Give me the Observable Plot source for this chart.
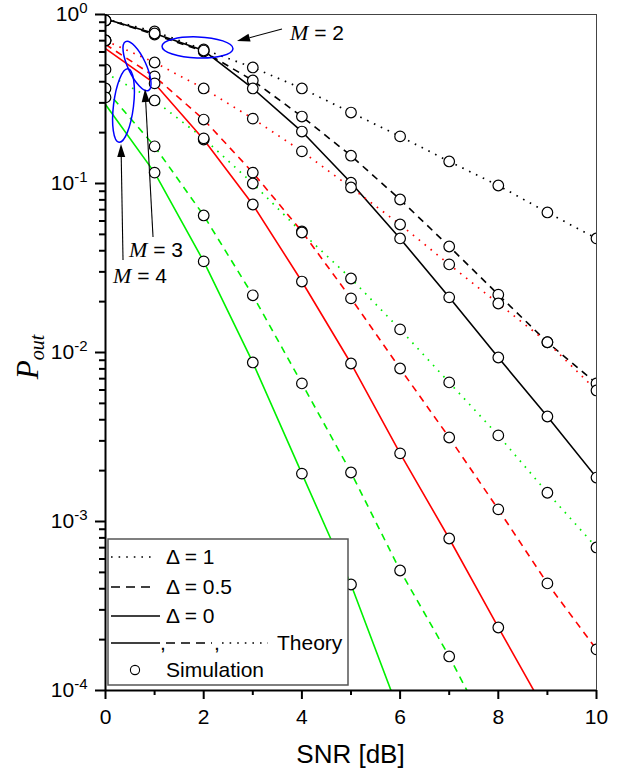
<!DOCTYPE html>
<html>
<head>
<meta charset="utf-8">
<script src="https://cdn.jsdelivr.net/npm/d3@7"></script>
<script src="https://cdn.jsdelivr.net/npm/@observablehq/plot@0.6"></script>
<style>
  html, body { margin: 0; padding: 0; background: #fff; }
  #chart svg { display: block; }
</style>
</head>
<body>
<div id="chart"></div>
<script>
// ---------------- data ----------------
const snr = [0, 1, 2, 3, 4, 5, 6, 7, 8, 9, 10];           // SNR [dB]
const mValues = [2, 3, 4];
const deltaValues = [1, 0.5, 0];
const deltaLabels = ["Δ = 1", "Δ = 0.5", "Δ = 0"];
const yMajorTicks = [1, 1e-1, 1e-2, 1e-3, 1e-4];
const yTickLabels = ["10^0", "10^-1", "10^-2", "10^-3", "10^-4"];
const xMajorTicks = [0, 2, 4, 6, 8, 10];
const xMinorTicks = [1, 3, 5, 7, 9];

// Simulation (circles), index = SNR
const simM2D1  = [0.922, 0.793, 0.621, 0.486, 0.365, 0.263, 0.190, 0.135, 0.0973, 0.0674, 0.0473];
const simM2D05 = [0.922, 0.761, 0.604, 0.407, 0.249, 0.146, 0.0804, 0.0424, 0.0220, 0.0115, 0.00656];
const simM2D0  = [0.922, 0.772, 0.612, 0.365, 0.203, 0.101, 0.0473, 0.0212, 0.00934, 0.00418, 0.00182];
const simM3D1  = [0.702, 0.520, 0.365, 0.242, 0.155, 0.0947, 0.0572, 0.0332, 0.0195, 0.0115, 0.00596];
const simM3D05 = [0.702, 0.430, 0.239, 0.116, 0.0520, 0.0209, 0.00804, 0.00314, 0.00118, 0.000430, 0.000175];
const simM3D0  = [0.702, 0.391, 0.182, 0.0751, 0.0263, 0.00861, 0.00253, 0.000793, 0.000236];
const simM4D1  = [0.473, 0.310, 0.185, 0.100, 0.0513, 0.0274, 0.0137, 0.00665, 0.00323, 0.00148, 0.000702];
const simM4D05 = [0.365, 0.166, 0.0647, 0.0218, 0.00656, 0.00195, 0.000513, 0.000159];
const simM4D0  = [0.323, 0.116, 0.0346, 0.00873, 0.00192, 0.000424];

// Theory (lines), index = SNR
const thM2D1  = [0.94, 0.793, 0.621, 0.486, 0.365, 0.263, 0.190, 0.135, 0.0973, 0.0674, 0.0473];
const thM2D05 = [0.94, 0.761, 0.604, 0.407, 0.249, 0.146, 0.0804, 0.0424, 0.0220, 0.0115, 0.00656];
const thM2D0  = [0.94, 0.772, 0.612, 0.365, 0.203, 0.101, 0.0473, 0.0212, 0.00934, 0.00418, 0.00182];
const thM3D1  = [0.70, 0.520, 0.365, 0.242, 0.155, 0.0947, 0.0572, 0.0332, 0.0195, 0.0115, 0.00596];
const thM3D05 = [0.665, 0.430, 0.239, 0.116, 0.0520, 0.0209, 0.00804, 0.00314, 0.00118, 0.000430, 0.000175];
const thM3D0  = [0.629, 0.391, 0.182, 0.0751, 0.0263, 0.00861, 0.00253, 0.000793, 0.000236, 0.000072];
const thM4D1  = [0.45, 0.310, 0.185, 0.100, 0.0513, 0.0274, 0.0137, 0.00665, 0.00323, 0.00148, 0.000702];
const thM4D05 = [0.36, 0.166, 0.0647, 0.0218, 0.00656, 0.00195, 0.000513, 0.000159, 0.000044];
const thM4D0  = [0.2935, 0.116, 0.0346, 0.00873, 0.00192, 0.000424, 0.000072];

// ---------------- styles ----------------
const colorOfM = {2: "#000000", 3: "#ff0000", 4: "#00f000"};
const dashOfDelta = {1: "1.6,6", 0.5: "7,5.5", 0: null};

const series = [
  {M: 2, delta: 1,   sim: simM2D1,  th: thM2D1},
  {M: 2, delta: 0.5, sim: simM2D05, th: thM2D05},
  {M: 2, delta: 0,   sim: simM2D0,  th: thM2D0},
  {M: 3, delta: 1,   sim: simM3D1,  th: thM3D1},
  {M: 3, delta: 0.5, sim: simM3D05, th: thM3D05},
  {M: 3, delta: 0,   sim: simM3D0,  th: thM3D0},
  {M: 4, delta: 1,   sim: simM4D1,  th: thM4D1},
  {M: 4, delta: 0.5, sim: simM4D05, th: thM4D05},
  {M: 4, delta: 0,   sim: simM4D0,  th: thM4D0}
];

const simRows = series.flatMap(s => s.sim.map((p, i) => ({snr: snr[i], p, M: s.M, delta: s.delta})));

const lineMarks = series.map(s => Plot.line(
  s.th.map((p, i) => ({snr: snr[i], p})),
  {x: "snr", y: "p", stroke: colorOfM[s.M], strokeWidth: s.delta === 1 ? 1.7 : 1.6,
   strokeDasharray: dashOfDelta[s.delta], strokeLinecap: "butt", clip: true}
));

const yMinorTicks = [];
for (let e = -4; e < 0; e++) for (let k = 2; k <= 9; k++) yMinorTicks.push(k * Math.pow(10, e));

const FONT = "'Liberation Sans', Arial, Helvetica, sans-serif";
const SERIF = "'Liberation Serif', 'Times New Roman', serif";

const plot = Plot.plot({
  width: 629,
  height: 778,
  marginLeft: 105,
  marginRight: 33,
  marginTop: 14,
  marginBottom: 88,
  style: {fontFamily: FONT, fontSize: "21px", color: "#000", background: "#fff", overflow: "visible"},
  x: {domain: [0, 10]},
  y: {type: "log", domain: [1e-4, 1]},
  marks: [
    Plot.frame({stroke: "#444", strokeWidth: 1}),
    ...lineMarks,
    Plot.dot(simRows, {x: "snr", y: "p", r: 5.3, stroke: "#000", strokeWidth: 1.2, fill: "#fff", clip: true}),
    Plot.ruleX([0], {stroke: "#000", strokeWidth: 2}),
    Plot.ruleY([1e-4], {stroke: "#000", strokeWidth: 2}),
    Plot.axisX({ticks: xMajorTicks, tickSize: 9, tickPadding: 10, tickFormat: d => String(d), label: null, strokeWidth: 2, fontSize: 21}),
    Plot.axisX({ticks: xMinorTicks, tickSize: 5, tickFormat: () => "", label: null, strokeWidth: 2}),
    Plot.axisY({ticks: yMajorTicks, tickSize: 10, tickPadding: 8, tickFormat: d => yTickLabels[yMajorTicks.indexOf(d)], label: null, strokeWidth: 2, fontSize: 21}),
    Plot.axisY({ticks: yMinorTicks, tickSize: 6, tickFormat: () => "", label: null, strokeWidth: 2})
  ]
});

document.getElementById("chart").appendChild(plot);

// ---------------- post-processing (text details, annotations, legend) ----------------
const svg = d3.select(plot);
const sx = plot.scale("x"), sy = plot.scale("y");
const X = v => sx.apply(v), Y = v => sy.apply(v);

// superscript exponents on y tick labels
svg.selectAll("text").each(function () {
  const m = /^10\^(-?\d+)$/.exec(this.textContent);
  if (m) {
    const el = d3.select(this);
    el.text("10");
    el.append("tspan").attr("dy", "-0.55em").attr("font-size", "15px").text(m[1]);
  }
});

// x axis label
svg.append("text")
  .attr("x", (X(0) + X(10)) / 2).attr("y", 763)
  .attr("text-anchor", "middle").attr("font-family", FONT).attr("font-size", "26px")
  .text("SNR [dB]");

// y axis label P_out
const yl = svg.append("text")
  .attr("transform", `translate(38,${(Y(1) + Y(1e-4)) / 2 + 5}) rotate(-90)`)
  .attr("text-anchor", "middle").attr("font-family", SERIF).attr("font-style", "italic").attr("font-size", "31px");
yl.append("tspan").text("P");
yl.append("tspan").attr("dy", "6").attr("font-size", "20px").text("out");

// annotations (data coordinates)
const ellipses = [
  {snr: 1.884, p: 0.634, rx: 35.5, ry: 10.5, angle: 2},
  {snr: 0.652, p: 0.492, rx: 27, ry: 9, angle: 65},
  {snr: 0.377, p: 0.2874, rx: 10, ry: 37, angle: 7}
];
const arrows = [
  {from: [3.605, 0.815], to: [2.688, 0.692]},
  {from: [0.978, 0.0479], to: [0.815, 0.36]},
  {from: [0.367, 0.035], to: [0.326, 0.170]}
];
const mLabels = [
  {m: "2", snr: 3.768, p: 0.702},
  {m: "3", snr: 0.489, p: 0.0365},
  {m: "4", snr: 0.163, p: 0.0256}
];

const ann = svg.append("g").attr("text-anchor", "start");
ellipses.forEach(e => {
  ann.append("ellipse")
    .attr("transform", `translate(${X(e.snr)},${Y(e.p)}) rotate(${e.angle})`)
    .attr("rx", e.rx).attr("ry", e.ry)
    .attr("fill", "none").attr("stroke", "#0000ff").attr("stroke-width", 1.5);
});
arrows.forEach(a => {
  const x0 = X(a.from[0]), y0 = Y(a.from[1]), x1 = X(a.to[0]), y1 = Y(a.to[1]);
  const dx = x1 - x0, dy = y1 - y0, len = Math.hypot(dx, dy);
  const ux = dx / len, uy = dy / len, hl = 13, hw = 4;
  const bx = x1 - ux * hl, by = y1 - uy * hl;
  ann.append("line").attr("x1", x0).attr("y1", y0).attr("x2", bx).attr("y2", by)
    .attr("stroke", "#000").attr("stroke-width", 1.1);
  ann.append("polygon")
    .attr("points", `${x1},${y1} ${bx - uy * hw},${by + ux * hw} ${bx + uy * hw},${by - ux * hw}`)
    .attr("fill", "#000");
});
mLabels.forEach(l => {
  const t = ann.append("text").attr("x", X(l.snr)).attr("y", Y(l.p))
    .attr("text-anchor", "start")
    .attr("font-family", FONT).attr("font-size", "21px");
  t.append("tspan").attr("font-family", SERIF).attr("font-style", "italic").attr("font-size", "22px").text("M");
  t.append("tspan").text(" = " + l.m);
});

// legend
const lg = svg.append("g").attr("font-family", FONT).attr("font-size", "21px").attr("text-anchor", "start");
lg.append("rect").attr("x", 108).attr("y", 539).attr("width", 240).attr("height", 146)
  .attr("fill", "#fff").attr("stroke", "#555").attr("stroke-width", 1.5);
const rowY = [557, 587, 616, 643, 670];
deltaValues.forEach((d, i) => {
  lg.append("line").attr("x1", 111).attr("x2", d === 0 ? 160 : 156).attr("y1", rowY[i]).attr("y2", rowY[i])
    .attr("stroke", "#000").attr("stroke-width", 1.7)
    .attr("stroke-dasharray", d === 1 ? "1.6,6" : d === 0.5 ? "9,6" : null);
  lg.append("text").attr("x", 166).attr("y", rowY[i] + 7).text(deltaLabels[i]);
});
// theory row
const tr = rowY[3];
lg.append("line").attr("x1", 111).attr("x2", 160).attr("y1", tr).attr("y2", tr).attr("stroke", "#000").attr("stroke-width", 1.7);
lg.append("text").attr("x", 160).attr("y", tr + 7).text(",");
lg.append("line").attr("x1", 166).attr("x2", 212).attr("y1", tr).attr("y2", tr).attr("stroke", "#000").attr("stroke-width", 1.7).attr("stroke-dasharray", "9,6");
lg.append("text").attr("x", 214).attr("y", tr + 7).text(",");
lg.append("line").attr("x1", 222).attr("x2", 268).attr("y1", tr).attr("y2", tr).attr("stroke", "#000").attr("stroke-width", 1.7).attr("stroke-dasharray", "1.6,6");
lg.append("text").attr("x", 277).attr("y", tr + 7).text("Theory");
// simulation row
lg.append("circle").attr("cx", 135).attr("cy", rowY[4]).attr("r", 4.6).attr("fill", "#fff").attr("stroke", "#000").attr("stroke-width", 1.1);
lg.append("text").attr("x", 166).attr("y", rowY[4] + 7).text("Simulation");
</script>
</body>
</html>
